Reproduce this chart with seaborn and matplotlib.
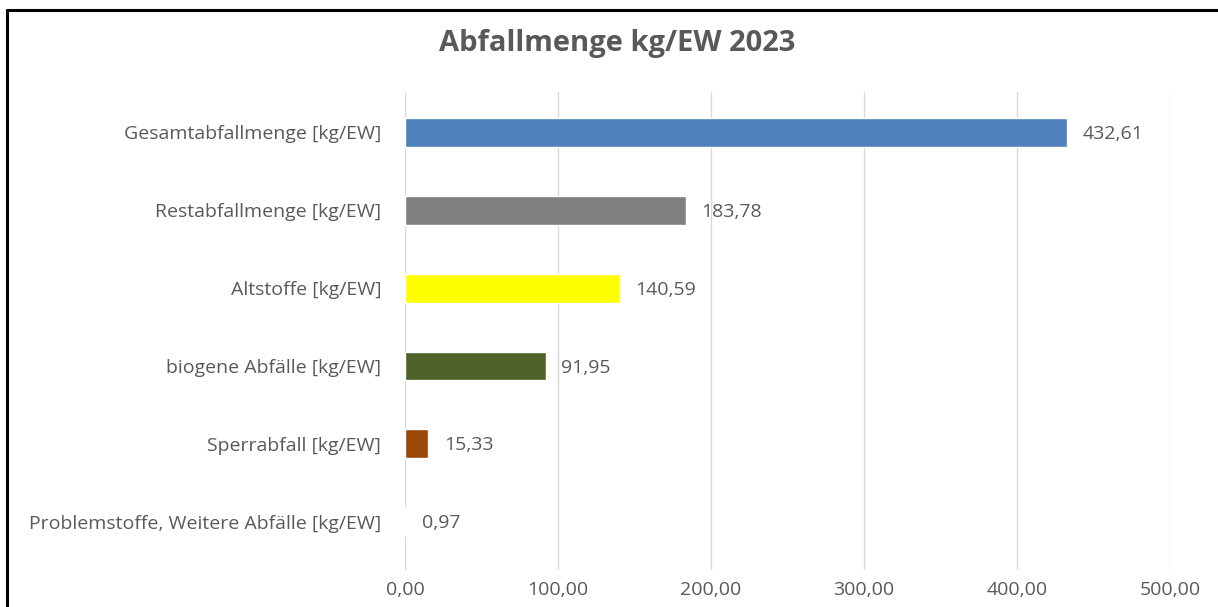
import matplotlib.pyplot as plt
import pandas as pd
import seaborn as sns
from matplotlib.lines import Line2D

categories = [
    "Gesamtabfallmenge [kg/EW]",
    "Restabfallmenge [kg/EW]",
    "Altstoffe [kg/EW]",
    "biogene Abfälle [kg/EW]",
    "Sperrabfall [kg/EW]",
    "Problemstoffe, Weitere Abfälle [kg/EW]",
]
values = [432.61, 183.78, 140.59, 91.95, 15.33, 0.97]
bar_colors = ["#4f81bd", "#7f7f7f", "#ffff00", "#4f6228", "#984807", "#e6e6e6"]
x_ticks = [0, 100, 200, 300, 400, 500]


def de_num(v):
    return f"{v:,.2f}".replace(",", "X").replace(".", ",").replace("X", ".")


df = pd.DataFrame({"Kategorie": categories, "Wert": values})

sns.set_theme(style="white")
plt.rcParams["font.family"] = ["Open Sans", "DejaVu Sans"]

fig = plt.figure(figsize=(12.18, 6.07), dpi=100)
ax = fig.add_axes([0.3325, 0.061, 0.6281, 0.7874])

sns.barplot(
    data=df, x="Wert", y="Kategorie", hue="Kategorie",
    palette=bar_colors, orient="h", width=0.37, legend=False, ax=ax,
    saturation=1,
)

ax.set_xlim(0, 500)
ax.set_ylim(5.62, -0.52)
ax.set_xticks(x_ticks)
ax.set_xticklabels([de_num(t) for t in x_ticks], color="#595959", fontsize=14)
ax.tick_params(axis="y", labelsize=14, labelcolor="#595959", length=0, pad=17)
ax.tick_params(axis="x", length=0, pad=8)
ax.grid(axis="x", color="#d9d9d9", linewidth=1)
ax.set_axisbelow(True)
for s in ax.spines.values():
    s.set_visible(False)
ax.set_xlabel("")
ax.set_ylabel("")

for i, v in enumerate(values):
    ax.annotate(de_num(v), (v, i + 0.02), xytext=(11, 0), textcoords="offset points",
                va="center", ha="left", fontsize=14, color="#595959")

fig.text(0.507, 0.929, "Abfallmenge kg/EW 2023", ha="center", va="center",
         fontsize=21, fontweight="bold", color="#595959")

# frame of the screenshot (left and top only)
fig.add_artist(Line2D([7 / 1218, 7 / 1218], [0, 1 - 10 / 607], color="black",
                      linewidth=2.2, transform=fig.transFigure))
fig.add_artist(Line2D([7 / 1218, 1], [1 - 10 / 607, 1 - 10 / 607], color="black",
                      linewidth=2.2, transform=fig.transFigure))

fig.savefig("out.png", dpi=100, facecolor="white")
